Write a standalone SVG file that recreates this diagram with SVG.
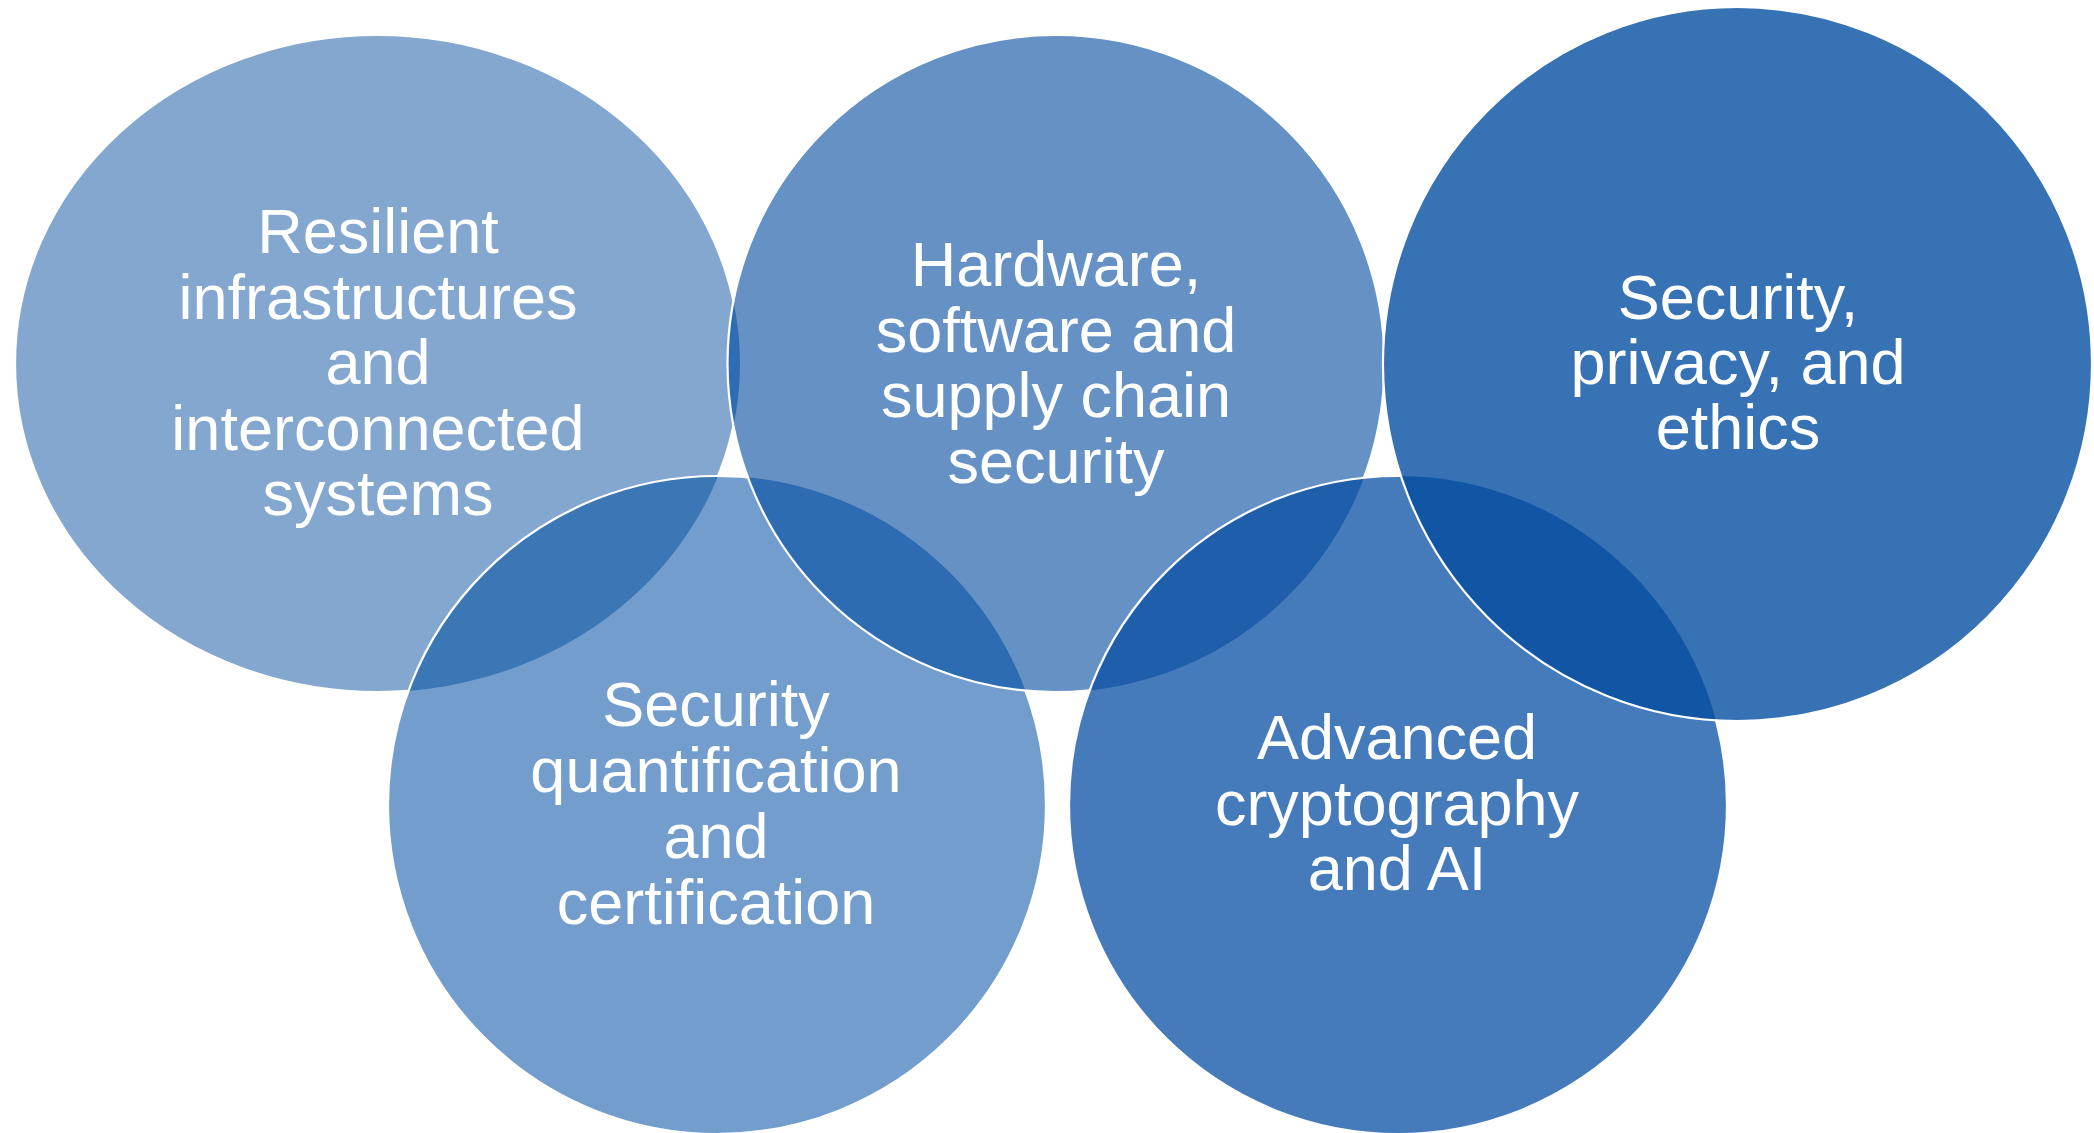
<svg xmlns="http://www.w3.org/2000/svg" width="2094" height="1133" viewBox="0 0 2094 1133">
  <style>
    .ring { stroke: #ffffff; stroke-width: 2.2; }
    .edge { fill: none; stroke: #ffffff; stroke-width: 2.2; }
    .label { font-family: "Liberation Sans", Arial, sans-serif; font-size: 63px; fill: #ffffff; text-anchor: middle; }
  </style>
  <defs>
    <!-- circle outlines reused for fills, overlaps and clipping -->
    <ellipse id="shape-left" cx="377.5" cy="363.5" rx="362.5" ry="328.5"/>
    <circle id="shape-bl" cx="717" cy="805" r="329"/>
    <circle id="shape-mid" cx="1056" cy="363.5" r="328.5"/>
    <circle id="shape-br" cx="1398" cy="805" r="329"/>
    <ellipse id="shape-right" cx="1737.5" cy="364" rx="354.5" ry="357"/>
    <clipPath id="clip-left"><use href="#shape-left"/></clipPath>
    <clipPath id="clip-bl"><use href="#shape-bl"/></clipPath>
    <clipPath id="clip-mid"><use href="#shape-mid"/></clipPath>
    <clipPath id="clip-br"><use href="#shape-br"/></clipPath>
  </defs>

  <rect width="2094" height="1133" fill="#ffffff"/>

  <!-- Resilient infrastructures -->
  <g id="node-resilient">
    <use href="#shape-left" fill="#84a7d0"/>
    <use href="#shape-left" class="edge"/>
  </g>

  <!-- Security quantification (overlaps the left ellipse) -->
  <g id="node-quantification">
    <use href="#shape-bl" fill="#739dcc"/>
    <use href="#shape-bl" fill="#3b77b5" clip-path="url(#clip-left)"/>
    <use href="#shape-bl" class="edge"/>
  </g>

  <!-- Hardware, software and supply chain (overlaps left and lower-left) -->
  <g id="node-hardware">
    <use href="#shape-mid" fill="#6591c5"/>
    <use href="#shape-mid" fill="#2f6db3" clip-path="url(#clip-left)"/>
    <use href="#shape-mid" fill="#2d6bb2" clip-path="url(#clip-bl)"/>
    <use href="#shape-mid" class="edge"/>
  </g>

  <!-- Advanced cryptography (overlaps the middle circle) -->
  <g id="node-cryptography">
    <use href="#shape-br" fill="#457bbb"/>
    <use href="#shape-br" fill="#1e5eab" clip-path="url(#clip-mid)"/>
    <use href="#shape-br" class="edge"/>
  </g>

  <!-- Security, privacy and ethics (overlaps middle and lower-right) -->
  <g id="node-ethics">
    <use href="#shape-right" fill="#3672b4"/>
    <use href="#shape-right" fill="#1b5fac" clip-path="url(#clip-mid)"/>
    <use href="#shape-right" fill="#1155a5" clip-path="url(#clip-br)"/>
    <use href="#shape-right" class="edge"/>
  </g>

  <!-- labels -->
  <g id="labels">
    <text class="label" x="378" y="253">Resilient</text>
    <text class="label" x="378" y="319">infrastructures</text>
    <text class="label" x="378" y="384">and</text>
    <text class="label" x="378" y="450">interconnected</text>
    <text class="label" x="378" y="515">systems</text>

    <text class="label" x="1056" y="286">Hardware,</text>
    <text class="label" x="1056" y="352">software and</text>
    <text class="label" x="1056" y="417">supply chain</text>
    <text class="label" x="1056" y="483">security</text>

    <text class="label" x="1738" y="319">Security,</text>
    <text class="label" x="1738" y="384">privacy, and</text>
    <text class="label" x="1738" y="449">ethics</text>

    <text class="label" x="716" y="726">Security</text>
    <text class="label" x="716" y="792">quantification</text>
    <text class="label" x="716" y="858">and</text>
    <text class="label" x="716" y="924">certification</text>

    <text class="label" x="1397" y="759">Advanced</text>
    <text class="label" x="1397" y="825">cryptography</text>
    <text class="label" x="1397" y="890">and AI</text>
  </g>
</svg>
